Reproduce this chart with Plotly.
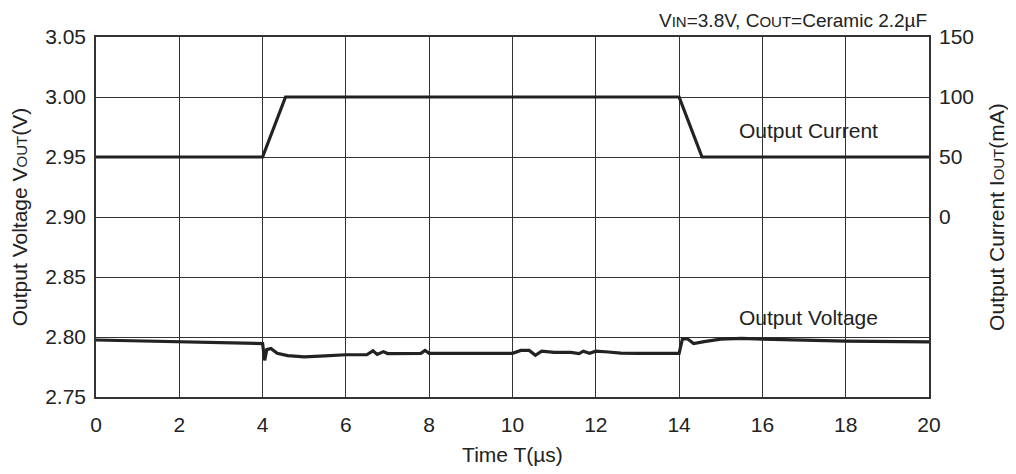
import plotly.graph_objects as go

# Output current step (mA)
t_current = [0, 4.0, 4.55, 14.0, 14.55, 20]
i_out = [50, 50, 100, 100, 50, 50]

# Output voltage response (V)
t_voltage = [0, 2, 4.0, 4.05, 4.1, 4.2, 4.35, 4.6, 5.0, 5.5, 6.0, 6.5, 6.65, 6.75, 6.9, 7.0,
             7.5, 7.8, 7.9, 8.0, 9.0, 10.0, 10.2, 10.4, 10.55, 10.7, 11.0, 11.4, 11.6, 11.7,
             11.85, 12.0, 12.3, 12.6, 13.0, 14.0, 14.08, 14.2, 14.35, 14.6, 15.0, 15.5, 16.0,
             17.0, 18.0, 20.0]
v_out = [2.7975, 2.7962, 2.7945, 2.7805, 2.7895, 2.7905, 2.7865, 2.7845, 2.7835, 2.7842, 2.7852,
         2.7852, 2.7885, 2.7855, 2.7878, 2.7862, 2.7862, 2.7864, 2.7888, 2.7864, 2.7864, 2.7864,
         2.7888, 2.7888, 2.7848, 2.7882, 2.7872, 2.7872, 2.7862, 2.7882, 2.7865, 2.7882, 2.7875,
         2.7866, 2.7864, 2.7864, 2.7985, 2.7985, 2.7945, 2.7962, 2.7982, 2.7988, 2.7982, 2.7972,
         2.7966, 2.7960]

FONT = "Liberation Sans, Arial, sans-serif"
FS = 21

fig = go.Figure()

fig.add_trace(go.Scatter(x=t_voltage, y=v_out, mode="lines",
                         line=dict(color="#222222", width=3.2), name="Output Voltage"))
fig.add_trace(go.Scatter(x=t_current, y=i_out, mode="lines", yaxis="y2",
                         line=dict(color="#222222", width=3.2), name="Output Current"))

small = "<span style='font-size:15px'>{}</span>"

# the page body adds an 8px margin, so margins are shifted to compensate
fig.update_layout(
    width=1016, height=474,
    margin=dict(l=88, r=95, t=29, b=85),
    paper_bgcolor="white", plot_bgcolor="white",
    showlegend=False,
    font=dict(family=FONT, size=FS, color="#222222"),
    xaxis=dict(range=[0, 20], dtick=2, showgrid=True, gridcolor="#333333", gridwidth=1,
               showline=True, linecolor="#333333", linewidth=1.5, mirror=True,
               ticks="", zeroline=False, ticklabelstandoff=8, automargin=False,
               title=dict(text="Time T(µs)", standoff=12, font=dict(size=FS))),
    yaxis=dict(range=[2.75, 3.05], dtick=0.05, tickformat=".2f", showgrid=True,
               gridcolor="#333333", gridwidth=1, showline=True, linecolor="#333333",
               linewidth=1.5, mirror=True, ticks="", zeroline=False, ticklabelstandoff=4,
               automargin=False,
               title=dict(text="Output Voltage V" + small.format("OUT") + "(V)",
                          standoff=14, font=dict(size=FS))),
    yaxis2=dict(range=[-150, 150], overlaying="y", side="right",
                tickvals=[0, 50, 100, 150], showgrid=False, zeroline=False,
                ticks="", showline=False, ticklabelstandoff=9, automargin=False,
                title=dict(text="Output Current I" + small.format("OUT") + "(mA)",
                           standoff=16, font=dict(size=FS))),
)

fig.add_annotation(x=17.1, y=2.9725, text="Output Current", showarrow=False,
                   font=dict(size=FS, family=FONT, color="#222222"))
fig.add_annotation(x=17.1, y=2.816, text="Output Voltage", showarrow=False,
                   font=dict(size=FS, family=FONT, color="#222222"))
fig.add_annotation(xref="paper", yref="paper", x=1.0, y=1.0, xanchor="right", yanchor="bottom",
                   yshift=4, showarrow=False,
                   text="V" + small.format("IN") + "=3.8V, C" + small.format("OUT")
                        + "=Ceramic 2.2µF",
                   font=dict(size=19, family=FONT, color="#222222"))

fig.write_html("out.html")
